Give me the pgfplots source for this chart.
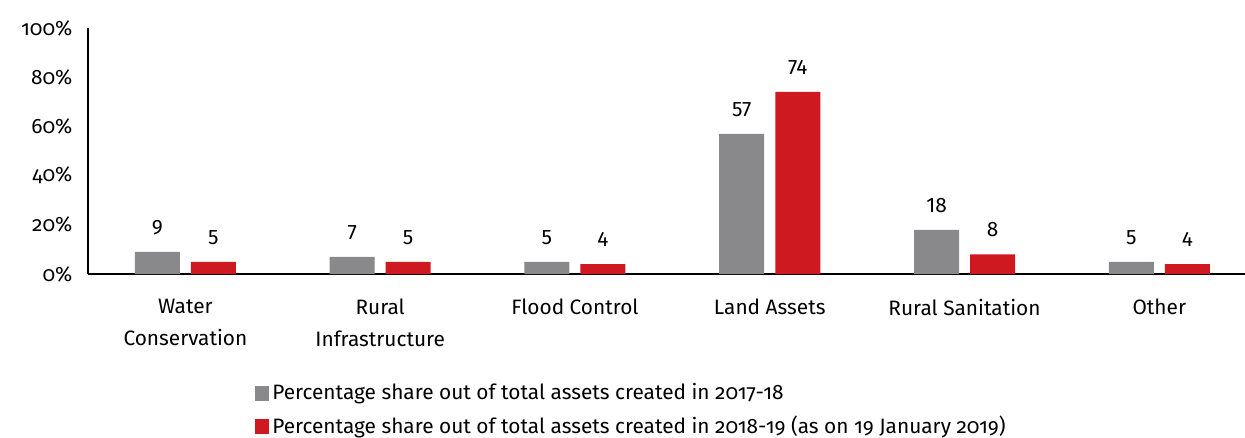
\documentclass[border=0pt]{standalone}
\usepackage{fontspec}
\setmainfont{Fira Sans}[Numbers=OldStyle]
\newfontfamily\lining{Fira Sans}[Numbers=Lining]
\usepackage{pgfplots}
\pgfplotsset{compat=1.18}

\definecolor{bargray}{RGB}{137,137,139}
\definecolor{barred}{RGB}{206,25,32}

\begin{document}
\begin{tikzpicture}
\fontsize{12.5}{15}\selectfont
\begin{axis}[
  width=694pt, height=147.6pt, scale only axis,
  ybar=6.6pt, bar width=27pt,
  ymin=0, ymax=100,
  xmin=-0.5, xmax=5.44,
  axis x line*=bottom, axis y line*=left,
  axis line style={black, line width=0.9pt},
  xtick={0,1,2,3,4,5},
  xticklabels={Water\\Conservation, Rural\\Infrastructure, Flood Control, Land Assets, Rural Sanitation, Other},
  xticklabel style={align=center, yshift=-10.6pt, font=\fontsize{12.5}{19.2}\selectfont},
  ytick={0,20,40,60,80,100},
  yticklabel={\pgfmathprintnumber{\tick}\%},
  yticklabel style={xshift=-5pt},
  /pgf/number format/assume math mode=true,
  major tick length=0pt,
  nodes near coords,
  nodes near coords style={font=\lining\fontsize{12.5}{15}\selectfont, text=black, yshift=6pt},
  legend style={at={(0.144,-0.43)}, anchor=north west, draw=none, fill=none,
    row sep=4pt, font=\fontsize{12.5}{15}\selectfont, inner sep=0pt},
  legend cell align=left,
  legend image code/.code={\fill[#1] (0pt,-4.5pt) rectangle (8.4pt,4.5pt);},
]
\addplot[fill=bargray, draw=none] coordinates {(0,9) (1,7) (2,5) (3,57) (4,18) (5,5)};
\addlegendentry{Percentage share out of total assets created in 2017-18}
\addplot[fill=barred, draw=none] coordinates {(0,5) (1,5) (2,4) (3,74) (4,8) (5,4)};
\addlegendentry{Percentage share out of total assets created in 2018-19 (as on 19 January 2019)}
\end{axis}
\pgfresetboundingbox
\path ([shift={(-52.8pt,-97.8pt)}]current axis.south west) rectangle ([shift={(0pt,16.8pt)}]current axis.north east);
\end{tikzpicture}
\end{document}
